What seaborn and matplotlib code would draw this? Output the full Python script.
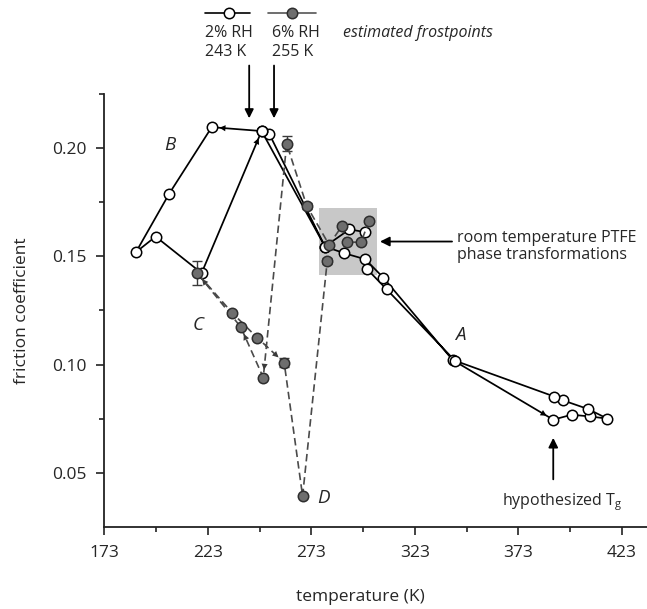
import numpy as np
import matplotlib
matplotlib.use("Agg")
import matplotlib.pyplot as plt
from matplotlib.patches import Rectangle
from matplotlib.lines import Line2D
import seaborn as sns

# 2% RH run (open circles), in measurement order
rh2_temp = [298.9, 291.4, 279.6, 252.7, 249.0, 224.9, 204.4, 188.3, 197.8, 220.0,
            249.0, 279.6, 288.9, 299.1, 307.8, 341.3, 389.9, 398.8, 407.6, 416.0,
            406.8, 394.7, 390.4, 342.4, 309.4, 299.8]
rh2_cof = [0.1613, 0.1625, 0.1546, 0.2067, 0.2080, 0.2098, 0.1791, 0.1520, 0.1592, 0.1423,
           0.2080, 0.1546, 0.1515, 0.1487, 0.1402, 0.1021, 0.0745, 0.0768, 0.0760, 0.0750,
           0.0794, 0.0834, 0.0852, 0.1018, 0.1348, 0.1443]
rh2_arrows = [(4, 5), (9, 10), (15, 16)]

# 6% RH run (filled circles), in measurement order
rh6_temp = [301.0, 297.0, 290.1, 287.7, 281.6, 270.8, 261.1, 249.8, 238.9, 217.9,
            234.8, 246.9, 259.9, 268.8, 280.7]
rh6_cof = [0.1665, 0.1566, 0.1566, 0.1639, 0.1554, 0.1734, 0.2021, 0.0940, 0.1174, 0.1423,
           0.1239, 0.1124, 0.1009, 0.0392, 0.1478]
rh6_err = [0.001, 0.001, 0.0, 0.0, 0.0, 0.0015, 0.0035, 0.0, 0.0, 0.0055,
           0.001, 0.0, 0.002, 0.0, 0.0015]
rh6_arrows = [(6, 7), (7, 8), (8, 9), (11, 12)]

frost_temps = [243, 255]
frost_labels = ["2% RH\n243 K", "6% RH\n255 K"]
tg_temp = 389.9

# shaded region of the room-temperature PTFE transitions
box_t = (276.9, 304.6)
box_c = (0.1416, 0.1724)

x_major = [173, 223, 273, 323, 373, 423]
x_minor = [198, 248, 298, 348, 398]
y_major = [0.05, 0.10, 0.15, 0.20]
y_labels = ["0.05", "0.10", "0.15", "0.20"]
y_minor = [0.075, 0.125, 0.175, 0.225]

sns.set_style("ticks")
plt.rcParams['font.family'] = ['Open Sans', 'DejaVu Sans']
plt.rcParams['font.size'] = 12
plt.rcParams['mathtext.fontset'] = 'custom'
plt.rcParams['mathtext.rm'] = 'Open Sans'

W, H = 647, 609
fig = plt.figure(figsize=(W / 100, H / 100), dpi=100)
ax = fig.add_axes([104.3 / W, 1 - 526.7 / H, (646.6 - 104.3) / W, (526.7 - 94.3) / H])

ax.add_patch(Rectangle((box_t[0], box_c[0]), box_t[1] - box_t[0], box_c[1] - box_c[0],
                       facecolor='#c8c8c8', edgecolor='none', zorder=0))

open_kw = dict(marker='o', markersize=7.5, markerfacecolor='white',
               markeredgecolor='black', markeredgewidth=1.1)
gray_kw = dict(marker='o', markersize=7.5, markerfacecolor='#6e6e6e',
               markeredgecolor='#2e2e2e', markeredgewidth=1.1)

sns.lineplot(x=rh2_temp, y=rh2_cof, sort=False, estimator=None, color='black',
             linewidth=1.25, ax=ax, zorder=2, **open_kw)

err = np.array(rh6_err)
m = err > 0
ax.errorbar(np.array(rh6_temp)[m], np.array(rh6_cof)[m], yerr=err[m], fmt='none',
            ecolor='#3a3a3a', elinewidth=1.0, capsize=3.5, capthick=1.0, zorder=3)
sns.lineplot(x=rh6_temp, y=rh6_cof, sort=False, estimator=None, color='#4a4a4a',
             linewidth=1.2, linestyle=(0, (4.5, 2.5)), ax=ax, zorder=4, **gray_kw)


def head(x0, y0, x1, y1, color):
    # arrow head only, sitting on an existing segment
    ax.annotate('', xy=(x1, y1), xytext=(x0, y0),
                arrowprops=dict(arrowstyle='-|>', color=color, lw=0,
                                shrinkA=0, shrinkB=5.5, mutation_scale=11),
                zorder=5)


for i, j in rh2_arrows:
    head(rh2_temp[i], rh2_cof[i], rh2_temp[j], rh2_cof[j], 'black')
for i, j in rh6_arrows:
    head(rh6_temp[i], rh6_cof[i], rh6_temp[j], rh6_cof[j], '#3a3a3a')

# letters along the path
for lab, t, c in [("A", 345.2, 0.1136), ("B", 204.8, 0.2015),
                  ("C", 218.4, 0.1182), ("D", 279.1, 0.0385)]:
    ax.text(t, c, lab, fontsize=13.5, style='italic', ha='center', va='center')

# PTFE transitions note
ax.annotate('', xy=(306.2, 0.1569), xytext=(341.0, 0.1569),
            arrowprops=dict(arrowstyle='-|>', color='black', lw=1.3,
                            shrinkA=0, shrinkB=0, mutation_scale=14))
ax.text(343.4, 0.1546, "room temperature PTFE\nphase transformations",
        fontsize=11.5, ha='left', va='center', linespacing=1.15)

# glass transition note
ax.annotate('', xy=(tg_temp, 0.0661), xytext=(tg_temp, 0.0469),
            arrowprops=dict(arrowstyle='-|>', color='black', lw=1.3,
                            shrinkA=0, shrinkB=0, mutation_scale=14))
ax.text(423.5, 0.0363, "hypothesized T$_\\mathregular{g}$", fontsize=11.5,
        ha='right', va='center')

# frostpoint arrows and key above the axes
for t in frost_temps:
    ax.annotate('', xy=(t, 0.2139), xytext=(t, 0.2383), annotation_clip=False,
                arrowprops=dict(arrowstyle='-|>', color='black', lw=1.3,
                                shrinkA=0, shrinkB=0, mutation_scale=13))

key_x = [(205, 229, 250, 'black', open_kw), (268, 291.7, 316, '#555555', gray_kw)]
for x0, xc, x1, col, kw in key_x:
    fig.add_artist(Line2D([x0 / W, x1 / W], [1 - 13.3 / H] * 2, color=col, lw=1.2,
                          transform=fig.transFigure))
    fig.add_artist(Line2D([xc / W], [1 - 13.3 / H], linestyle='none',
                          transform=fig.transFigure, **kw))
for lx, lab in zip([205, 272], frost_labels):
    fig.text(lx / W, 1 - 42.5 / H, lab, fontsize=11.5, ha='left', va='center',
             linespacing=1.25)
fig.text(343 / W, 1 - 33.3 / H, "estimated frostpoints", fontsize=11.5,
         style='italic', ha='left', va='center')

ax.set_xlim(173, 435)
ax.set_ylim(0.025, 0.225)
ax.set_xticks(x_major)
ax.set_xticks(x_minor, minor=True)
ax.set_yticks(y_major)
ax.set_yticklabels(y_labels)
ax.set_yticks(y_minor, minor=True)
ax.tick_params(which='major', length=6, width=1.2, pad=7, labelsize=12.5, color='#222222')
ax.tick_params(which='minor', length=3.5, width=1.2, color='#222222')
for s in ['left', 'bottom']:
    ax.spines[s].set_linewidth(1.3)
    ax.spines[s].set_color('#222222')
sns.despine(ax=ax)

ax.set_xlabel("temperature (K)", fontsize=12.5)
ax.set_ylabel("friction coefficient", fontsize=12.5)
ax.xaxis.set_label_coords(0.4715, -0.145)
ax.yaxis.set_label_coords(-0.137, 0.5)

fig.savefig("out.png", dpi=100)
